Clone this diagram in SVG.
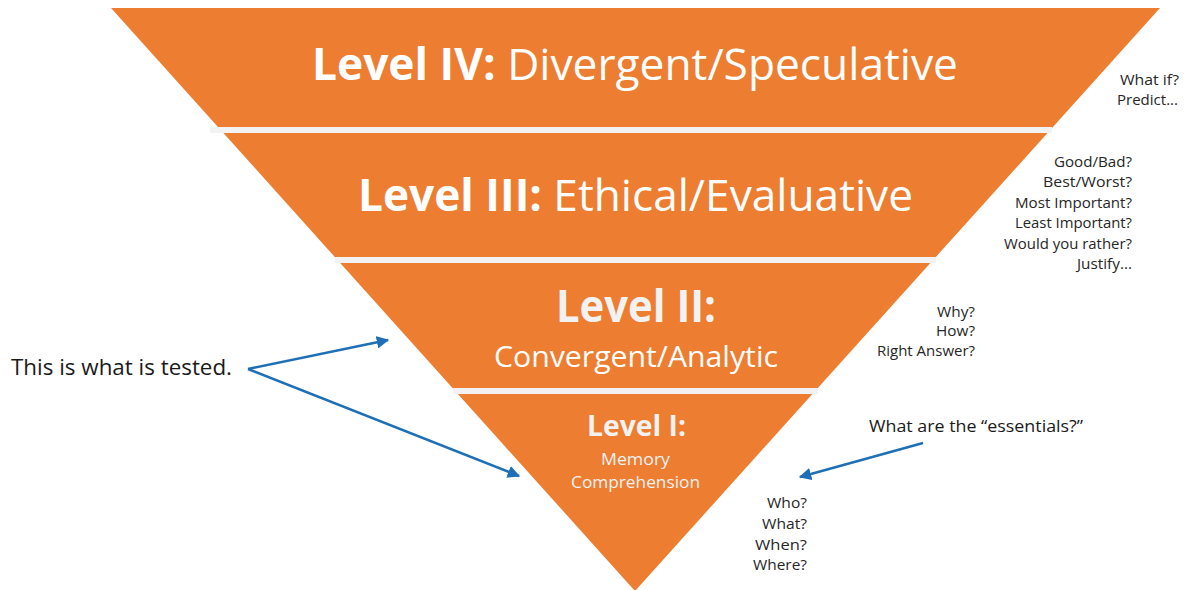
<svg xmlns="http://www.w3.org/2000/svg" width="1184" height="590" viewBox="0 0 1184 590">
<defs>
<style>
.band{fill:#ED7D31;}
.gap{fill:#F2F2F2;}
.title{font-family:"Open Sans","Noto Sans",sans-serif;fill:#FFFFFF;text-anchor:middle;}
.b{font-weight:bold;}
.q{font-family:"Open Sans","Noto Sans",sans-serif;font-size:14px;fill:#262626;text-anchor:end;}
.lbl{font-family:"Open Sans","Noto Sans",sans-serif;fill:#1A1A1A;}
.arr{stroke:#1F6FB6;stroke-width:2.5;fill:none;marker-end:url(#ah);}
</style>
<marker id="ah" viewBox="0 0 10 10" refX="9" refY="5" markerWidth="5" markerHeight="5" orient="auto" markerUnits="strokeWidth">
<path d="M0,0 L10,5 L0,10 z" fill="#1F6FB6"/>
</marker>
</defs>
<rect width="1184" height="590" fill="#FFFFFF"/>
<g id="pyramid">
<polygon class="band" points="111,8 1160,8 635,591"/>
<rect class="gap" x="210" y="127" width="842" height="6"/>
<rect class="gap" x="335" y="257" width="601" height="6"/>
<rect class="gap" x="453" y="388" width="365" height="6"/>
</g>
<g id="level4">
<text class="title" x="635" y="80" font-size="44" textLength="646" lengthAdjust="spacingAndGlyphs"><tspan class="b">Level IV:</tspan> Divergent/Speculative</text>
</g>
<g id="level3">
<text class="title" x="635.5" y="211" font-size="44" textLength="555" lengthAdjust="spacingAndGlyphs"><tspan class="b">Level III:</tspan> Ethical/Evaluative</text>
</g>
<g id="level2">
<text class="title b" x="636" y="322" font-size="44" textLength="160" lengthAdjust="spacingAndGlyphs" style="fill:#F2F2F2">Level II:</text>
<text class="title" x="636" y="367" font-size="29" textLength="284" lengthAdjust="spacingAndGlyphs">Convergent/Analytic</text>
</g>
<g id="level1">
<text class="title b" x="636.5" y="436" font-size="28" textLength="99" lengthAdjust="spacingAndGlyphs" style="fill:#F2F2F2">Level I:</text>
<text class="title" x="635.5" y="465" font-size="16" textLength="69" lengthAdjust="spacingAndGlyphs" style="fill:#F2F2F2">Memory</text>
<text class="title" x="635.5" y="488" font-size="16" textLength="129" lengthAdjust="spacingAndGlyphs" style="fill:#F2F2F2">Comprehension</text>
</g>
<g id="q4">
<text class="q" x="1179" y="85" textLength="59" lengthAdjust="spacingAndGlyphs">What if?</text>
<text class="q" x="1178" y="105" textLength="61" lengthAdjust="spacingAndGlyphs">Predict...</text>
</g>
<g id="q3">
<text class="q" x="1132" y="167" textLength="78" lengthAdjust="spacingAndGlyphs">Good/Bad?</text>
<text class="q" x="1132" y="187" textLength="89" lengthAdjust="spacingAndGlyphs">Best/Worst?</text>
<text class="q" x="1132" y="208" textLength="117" lengthAdjust="spacingAndGlyphs">Most Important?</text>
<text class="q" x="1132" y="228" textLength="117" lengthAdjust="spacingAndGlyphs">Least Important?</text>
<text class="q" x="1132" y="249" textLength="128" lengthAdjust="spacingAndGlyphs">Would you rather?</text>
<text class="q" x="1132" y="269" textLength="55" lengthAdjust="spacingAndGlyphs">Justify...</text>
</g>
<g id="q2">
<text class="q" x="975" y="317" textLength="38" lengthAdjust="spacingAndGlyphs">Why?</text>
<text class="q" x="975" y="336" textLength="39" lengthAdjust="spacingAndGlyphs">How?</text>
<text class="q" x="975" y="356" textLength="98" lengthAdjust="spacingAndGlyphs">Right Answer?</text>
</g>
<g id="q1">
<text class="q" x="807" y="508" textLength="40" lengthAdjust="spacingAndGlyphs">Who?</text>
<text class="q" x="807" y="529" textLength="45" lengthAdjust="spacingAndGlyphs">What?</text>
<text class="q" x="807" y="550" textLength="52" lengthAdjust="spacingAndGlyphs">When?</text>
<text class="q" x="807" y="570" textLength="54" lengthAdjust="spacingAndGlyphs">Where?</text>
</g>
<g id="tested">
<text class="lbl" x="11" y="375" font-size="22" textLength="221" lengthAdjust="spacingAndGlyphs">This is what is tested.</text>
</g>
<g id="essentials">
<text class="lbl" x="869" y="432" font-size="16.5" textLength="214" lengthAdjust="spacingAndGlyphs">What are the “essentials?”</text>
</g>
<g id="connectors">
<line class="arr" x1="248" y1="369" x2="388" y2="340"/>
<line class="arr" x1="248" y1="369" x2="519" y2="476"/>
<line class="arr" x1="923" y1="443" x2="800" y2="477"/>
</g>
</svg>
